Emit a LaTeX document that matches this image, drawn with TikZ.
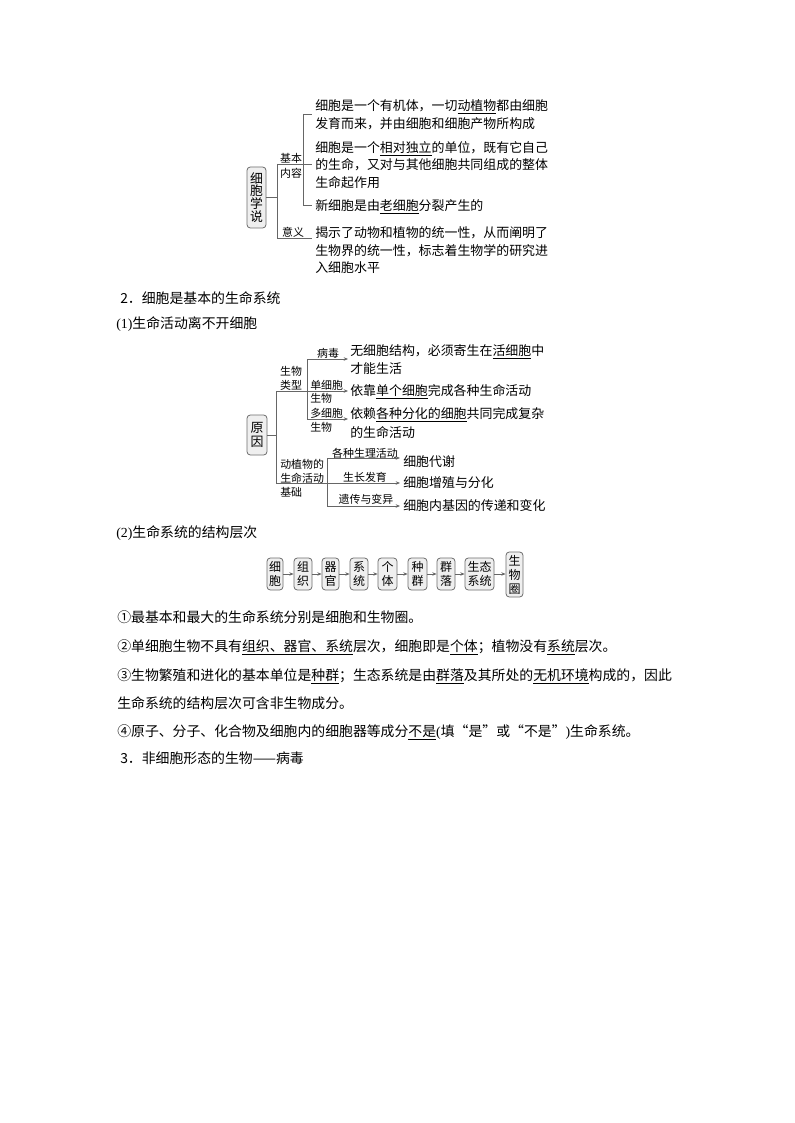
\documentclass[tikz,border=0pt]{standalone}
\usepackage{fontspec}
\setmainfont{Noto Sans CJK SC}
\newfontfamily\latinserif{Liberation Serif}
\usetikzlibrary{arrows.meta}
\definecolor{lncol}{HTML}{666666}
\definecolor{bxline}{HTML}{6E6E6E}
\definecolor{bxfill}{HTML}{EFEFEF}
\begin{document}
\begin{tikzpicture}[x=0.75pt,y=-0.75pt,
  txt/.style={anchor=west,inner sep=0pt,font=\fontsize{9.7}{11}\selectfont,text height=0.88em,text depth=0.12em},
  body/.style={anchor=west,inner sep=0pt,font=\fontsize{10.4}{12}\selectfont,text height=0.88em,text depth=0.12em},
  lbl/.style={inner sep=0pt,font=\fontsize{8.2}{9.5}\selectfont,text height=0.88em,text depth=0.12em},
  lblw/.style={lbl,anchor=west},
  ln/.style={draw=lncol,line width=0.6pt},
  arr/.style={ln,-{Stealth[length=3.2pt,width=2.6pt]}},
  bx/.style={draw=bxline,fill=bxfill,line width=0.6pt,rounded corners=2.5pt,inner sep=0pt,align=center},
  lv/.style={bx,font=\fontsize{9}{10.5}\selectfont,minimum height=24pt,anchor=center}
]
\useasboundingbox (0,0) rectangle (794,1123);
\fill[white] (0,0) rectangle (794,1123);

% ---------------- Diagram 1: cell theory ----------------
\node[bx,minimum width=14.25pt,minimum height=45.75pt,font=\fontsize{9.6}{9.6}\selectfont] (xb) at (256.5,197.5) {细\\胞\\学\\说};
\coordinate (a1) at (277,197.5);
\coordinate (a1t) at (277,164);
\coordinate (a1b) at (277,238);
\coordinate (a2t) at (303,114);
\coordinate (a2m) at (303,164);
\coordinate (a2b) at (303,205);
\coordinate (e1) at (312,114);
\coordinate (e2) at (312,164);
\coordinate (e3) at (312,205);
\coordinate (e4) at (312,238);
\draw[ln] (xb.east) -- (a1);
\draw[ln] (a1t) -- (a1b);
\draw[ln] (a1t) -- (e2);
\draw[ln] (a2t) -- (a2b);
\draw[ln] (a2t) -- (e1);
\draw[ln] (a2b) -- (e3);
\draw[ln] (a1b) -- (e4);
\node[lbl] (jb1) at (291,157) {基本};
\node[lbl] (jb2) at (291,172.5) {内容};
\node[lbl] (yy) at (293,231) {意义};
\node[txt] (t1) at (315,105) {细胞是一个有机体，一切\underline{动植物}都由细胞};
\node[txt] (t2) at (315,123) {发育而来，并由细胞和细胞产物所构成};
\node[txt] (t3) at (315,147) {细胞是一个\underline{相对独立}的单位，既有它自己};
\node[txt] (t4) at (315,164) {的生命，又对与其他细胞共同组成的整体};
\node[txt] (t5) at (315,182) {生命起作用};
\node[txt] (t6) at (315,205) {新细胞是由\underline{老细胞}分裂产生的};
\node[txt] (t7) at (315,232) {揭示了动物和植物的统一性，从而阐明了};
\node[txt] (t8) at (315,250) {生物界的统一性，标志着生物学的研究进};
\node[txt] (t9) at (315,267) {入细胞水平};

% ---------------- headings ----------------
\node[body] (h2) at (120,298) {2．细胞是基本的生命系统};
\node[body] (h21) at (116,323) {{\latinserif (1)}生命活动离不开细胞};

% ---------------- Diagram 2: reasons ----------------
\node[bx,minimum width=15pt,minimum height=30pt,font=\fontsize{9.7}{10.5}\selectfont] (yb) at (257,435) {原\\因};
\coordinate (b1) at (276,435);
\coordinate (b1t) at (276,391);
\coordinate (b1b) at (276,483);
\coordinate (b2t) at (307,359);
\coordinate (b2m) at (307,391);
\coordinate (b2b) at (307,419);
\coordinate (f1) at (348,359);
\coordinate (f2) at (348,391);
\coordinate (f3) at (348,419);
\coordinate (c2t) at (327,458);
\coordinate (c2m) at (327,483);
\coordinate (c2b) at (327,506);
\coordinate (g1) at (400,458);
\coordinate (g2) at (400,483);
\coordinate (g3) at (400,506);
\draw[ln] (yb.east) -- (b1);
\draw[ln] (b1t) -- (b1b);
\draw[ln] (b1t) -- (b2m);
\draw[ln] (b2t) -- (b2b);
\draw[arr] (b2t) -- (f1);
\draw[arr] (b2m) -- (f2);
\draw[arr] (b2b) -- (f3);
\draw[ln] (b1b) -- (c2m);
\draw[ln] (c2t) -- (c2b);
\draw[arr] (c2t) -- (g1);
\draw[arr] (c2m) -- (g2);
\draw[arr] (c2b) -- (g3);
\node[lbl] (sw1) at (291,370) {生物};
\node[lbl] (sw2) at (291,384.5) {类型};
\node[lbl] (bd) at (328,352) {病毒};
\node[lblw] (dx1) at (310,384.5) {单细胞};
\node[lblw] (dx2) at (310,397.5) {生物};
\node[lblw] (dd1) at (310,412.5) {多细胞};
\node[lblw] (dd2) at (310,426) {生物};
\node[lblw] (jc1) at (280,463) {动植物的};
\node[lblw] (jc2) at (280,477) {生命活动};
\node[lblw] (jc3) at (280,491) {基础};
\node[lbl] (k1) at (365,452) {各种生理活动};
\node[lbl] (k2) at (365,476) {生长发育};
\node[lbl] (k3) at (366,498.5) {遗传与变异};
\node[txt] (r1) at (350,350) {无细胞结构，必须寄生在\underline{活细胞}中};
\node[txt] (r2) at (350,368) {才能生活};
\node[txt] (r3) at (350,390) {依靠\underline{单个细胞}完成各种生命活动};
\node[txt] (r4) at (350,413) {依赖\underline{各种分化的细胞}共同完成复杂};
\node[txt] (r5) at (350,432) {的生命活动};
\node[txt] (s1) at (403,461) {细胞代谢};
\node[txt] (s2) at (403,482) {细胞增殖与分化};
\node[txt] (s3) at (403,505) {细胞内基因的传递和变化};

% ---------------- heading (2) ----------------
\node[body] (h22) at (116,532) {{\latinserif (2)}生命系统的结构层次};

% ---------------- Diagram 3: levels ----------------
\node[lv,minimum width=12pt] (l1) at (275,574) {细\\胞};
\node[lv,minimum width=13.5pt] (l2) at (303,574) {组\\织};
\node[lv,minimum width=12.75pt] (l3) at (330.5,574) {器\\官};
\node[lv,minimum width=13.5pt] (l4) at (359,574) {系\\统};
\node[lv,minimum width=14.25pt] (l5) at (387.5,574) {个\\体};
\node[lv,minimum width=14.25pt] (l6) at (417.5,574) {种\\群};
\node[lv,minimum width=13.5pt] (l7) at (446,574) {群\\落};
\node[lv,minimum width=21.75pt] (l8) at (479.5,574) {生态\\系统};
\node[lv,minimum width=12.75pt,minimum height=33.75pt] (l9) at (514.5,574.5) {生\\物\\圈};
\draw[arr] (l1.east) -- (l2.west);
\draw[arr] (l2.east) -- (l3.west);
\draw[arr] (l3.east) -- (l4.west);
\draw[arr] (l4.east) -- (l5.west);
\draw[arr] (l5.east) -- (l6.west);
\draw[arr] (l6.east) -- (l7.west);
\draw[arr] (l7.east) -- (l8.west);
\draw[arr] (l8.east) -- (l9.west |- l8.east);

% ---------------- body text ----------------
\node[body] (p1) at (117,617) {①最基本和最大的生命系统分别是细胞和生物圈。};
\node[body] (p2) at (117,646) {②单细胞生物不具有\underline{组织、器官、系统}层次，细胞即是\underline{个体}；植物没有\underline{系统}层次。};
\node[body] (p3) at (117,675) {③生物繁殖和进化的基本单位是\underline{种群}；生态系统是由\underline{群落}及其所处的\underline{无机环境}构成的，因此};
\node[body] (p3b) at (117,703) {生命系统的结构层次可含非生物成分。};
\node[body] (p4) at (117,731) {④原子、分子、化合物及细胞内的细胞器等成分\underline{不是}{\latinserif (}填“是”或“不是”{\latinserif )}生命系统。};
\node[body] (h3) at (120,758) {3．非细胞形态的生物——病毒};
\end{tikzpicture}
\end{document}
